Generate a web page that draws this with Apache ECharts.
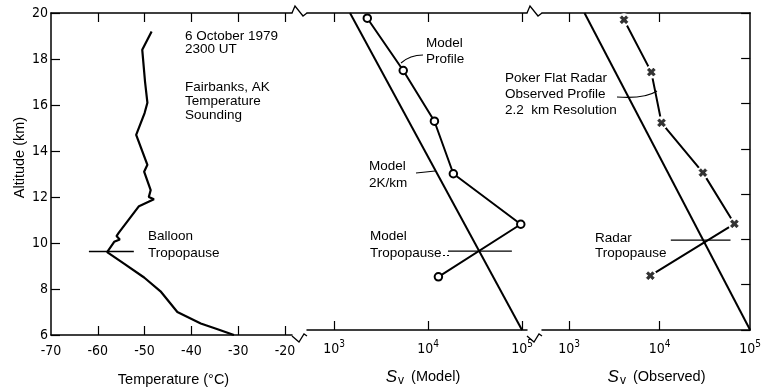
<!DOCTYPE html>
<html>
<head>
<meta charset="utf-8">
<script src="https://cdn.jsdelivr.net/npm/echarts@6/dist/echarts.min.js"></script>
<style>
html, body { margin: 0; padding: 0; background: #fff; }
#container { width: 764px; height: 392px; }
</style>
</head>
<body>
<div id="container"></div>
<script>
// balloon temperature sounding
var tempC = [-48.5, -50.5, -49.9, -49.4, -50.0, -51.8, -49.4, -50.1, -48.7, -49.1, -48.0, -51.2,
    -55.5, -56.0, -55.3, -56.5, -58.0, -54.4, -50.1, -46.6, -43.0, -38.0, -34.4, -30.9];
var tempAlt = [19.2, 18.4, 17.0, 16.1, 15.65, 14.7, 13.4, 13.1, 12.3, 12.0, 11.9, 11.6,
    10.45, 10.3, 10.15, 10.05, 9.6, 9.1, 8.5, 7.9, 7.0, 6.5, 6.25, 6.0];
var balloonTropC = [-61.9, -52.3];
var balloonTropAlt = [9.63, 9.63];

// model Sv
var modelSv = [2260, 5450, 11700, 18600, 97000, 12900];
var modelAlt = [19.77, 17.46, 15.22, 12.9, 10.67, 8.35];
var gradientSv = [1480, 100000]; // 2K/km model
var gradientAlt = [20, 6];
var modelTropSv = [16300, 78000];
var modelTropAlt = [9.48, 9.48];

// observed Sv (Poker Flat radar)
var obsSv = [4040, 8100, 10500, 30100, 67000, 7900];
var obsAlt = [19.70, 17.39, 15.15, 12.95, 10.69, 8.40];
var radarTropSv = [13300, 60700];
var radarTropAlt = [9.97, 9.97];

// ticks
var tempLabels = [-70, -60, -50, -40, -30, -20];
var tempTicks = [-60, -50, -40, -30, -20];
var svLabels = [1000, 10000, 100000];
var altMin = 6, altMax = 20, altStep = 2;

var ink = '#000';
var font = '"Liberation Sans", Arial, sans-serif';
var numFont = '"Liberation Sans Narrow", "DejaVu Sans Condensed", "Liberation Sans", sans-serif';

function zip(xs, ys) {
    return xs.map(function (x, i) { return [x, ys[i]]; });
}

function powLabel(v) {
    return '10{e|' + Math.round(Math.log10(v)) + '}';
}

var labelRich = {
    e: { fontSize: 10, fontFamily: numFont, color: ink, padding: [0, 0, 10, 0] }
};

function xAx(grid, type, min, max, pos, labels, ticks, name, padLeft) {
    var ax = {
        gridIndex: grid,
        type: type,
        position: pos,
        min: min,
        max: max,
        splitLine: { show: false },
        axisLine: { show: true, lineStyle: { color: ink, width: 1.5 } },
        axisTick: { show: true, inside: true, length: 9, customValues: ticks, lineStyle: { color: ink, width: 1.2 } },
        axisLabel: { show: false }
    };
    if (type === 'log') ax.logBase = 10;
    if (labels) {
        ax.axisLabel = {
            show: true,
            customValues: labels,
            margin: 9,
            color: ink,
            fontSize: 14,
            fontFamily: numFont,
            formatter: type === 'log' ? powLabel : function (v) { return String(v); },
            rich: labelRich
        };
    }
    if (name) {
        ax.name = name;
        ax.nameLocation = 'middle';
        ax.nameGap = 37;
        ax.nameTextStyle = {
            color: ink, fontSize: 14.5, fontFamily: font,
            padding: [0, 0, 0, padLeft || 0],
            rich: {
                s: { fontSize: 17, fontStyle: 'italic', fontFamily: font, color: ink },
                v: { fontSize: 12, fontFamily: font, color: ink, padding: [8, 3, 0, 1] }
            }
        };
    }
    return ax;
}

function hiddenY(grid) {
    return { gridIndex: grid, type: 'value', min: altMin, max: altMax, interval: altStep, show: false };
}

var dom = document.getElementById('container');
var myChart = echarts.init(dom, null, { renderer: 'canvas' });

var txt = '13.5px ' + font;

var option = {
    animation: false,
    backgroundColor: '#fff',
    grid: [
        { left: 51, top: 13, width: 241, height: 323 },
        { left: 307, top: 13, width: 220, height: 323 },
        { left: 542, top: 13, width: 215, height: 323 }
    ],
    xAxis: [
        xAx(0, 'value', -70, -18.5, 'bottom', tempLabels, tempTicks, 'Temperature (°C)', 4),
        xAx(0, 'value', -70, -18.5, 'top', null, tempTicks),
        xAx(1, 'log', 516, 113000, 'bottom', svLabels, svLabels, '{s|S}{v|v} (Model)', 12),
        xAx(1, 'log', 516, 113000, 'top', null, svLabels),
        xAx(2, 'log', 502, 100000, 'bottom', svLabels, [1000, 10000], '{s|S}{v|v} (Observed)', 21),
        xAx(2, 'log', 502, 100000, 'top', null, [1000, 10000])
    ],
    yAxis: [
        {
            gridIndex: 0, type: 'value', min: altMin, max: altMax, interval: altStep,
            name: 'Altitude (km)', nameLocation: 'middle', nameGap: 24,
            nameTextStyle: { color: ink, fontSize: 14.5, fontFamily: font, padding: [0, 0, 0, 33] },
            splitLine: { show: false },
            axisLine: { show: true, lineStyle: { color: ink, width: 1.5 } },
            axisTick: { inside: true, length: 9, lineStyle: { color: ink, width: 1.2 } },
            axisLabel: { margin: 3, color: ink, fontSize: 14, fontFamily: numFont }
        },
        hiddenY(1),
        hiddenY(2),
        {
            gridIndex: 2, type: 'value', min: altMin, max: altMax, interval: altStep, position: 'right',
            splitLine: { show: false },
            axisLine: { show: true, lineStyle: { color: ink, width: 1.5 } },
            axisTick: { inside: true, length: 9, lineStyle: { color: ink, width: 1.2 } },
            axisLabel: { show: false }
        }
    ],
    series: [
        {
            type: 'line', xAxisIndex: 0, yAxisIndex: 0, showSymbol: false,
            lineStyle: { color: ink, width: 2.2 },
            data: zip(tempC, tempAlt)
        },
        {
            type: 'line', xAxisIndex: 0, yAxisIndex: 0, showSymbol: false,
            lineStyle: { color: ink, width: 1.3 },
            data: zip(balloonTropC, balloonTropAlt)
        },
        {
            type: 'line', xAxisIndex: 2, yAxisIndex: 1, showSymbol: false,
            lineStyle: { color: ink, width: 2 },
            data: zip(gradientSv, gradientAlt)
        },
        {
            type: 'line', xAxisIndex: 2, yAxisIndex: 1, showSymbol: false,
            lineStyle: { color: ink, width: 1.3 },
            data: zip(modelTropSv, modelTropAlt)
        },
        {
            type: 'line', xAxisIndex: 2, yAxisIndex: 1,
            symbol: 'circle', symbolSize: 7.5,
            itemStyle: { color: '#fff', borderColor: ink, borderWidth: 2 },
            lineStyle: { color: ink, width: 2 },
            data: zip(modelSv, modelAlt)
        },
        {
            type: 'line', xAxisIndex: 4, yAxisIndex: 2, showSymbol: false,
            lineStyle: { color: ink, width: 2 },
            data: zip(gradientSv, gradientAlt)
        },
        {
            type: 'line', xAxisIndex: 4, yAxisIndex: 2, showSymbol: false,
            lineStyle: { color: ink, width: 1.3 },
            data: zip(radarTropSv, radarTropAlt)
        },
        {
            // line broken around each marker
            type: 'line', xAxisIndex: 4, yAxisIndex: 2,
            symbol: 'circle', symbolSize: 13,
            itemStyle: { color: '#fff', borderWidth: 0 },
            lineStyle: { color: ink, width: 2 },
            data: zip(obsSv, obsAlt)
        },
        {
            type: 'scatter', xAxisIndex: 4, yAxisIndex: 2, z: 5,
            symbol: 'path://M0,2.4L2.4,0L5,2.6L7.6,0L10,2.4L7.4,5L10,7.6L7.6,10L5,7.4L2.4,10L0,7.6L2.6,5Z',
            symbolSize: 8,
            itemStyle: { color: ink, borderColor: ink, borderWidth: 0.6 },
            data: zip(obsSv, obsAlt)
        }
    ],
    graphic: [
        // axis breaks
        { type: 'polyline', shape: { points: [[292, 13], [295, 6], [303, 16], [307, 13]] }, style: { stroke: ink, lineWidth: 1.3, fill: null } },
        { type: 'polyline', shape: { points: [[527, 13], [530, 6], [538, 16], [542, 13]] }, style: { stroke: ink, lineWidth: 1.3, fill: null } },
        { type: 'polyline', shape: { points: [[292, 336], [299, 342], [304, 334], [307, 336]] }, style: { stroke: ink, lineWidth: 1.3, fill: null } },
        { type: 'polyline', shape: { points: [[527, 336], [534, 342], [539, 334], [542, 336]] }, style: { stroke: ink, lineWidth: 1.3, fill: null } },
        // annotations
        { type: 'text', x: 185, y: 30, style: { text: '6 October 1979\n2300 UT', font: txt, lineHeight: 13, fill: ink } },
        { type: 'text', x: 185, y: 80, style: { text: 'Fairbanks, AK\nTemperature\nSounding', font: txt, lineHeight: 14, fill: ink } },
        { type: 'text', x: 148, y: 228, style: { text: 'Balloon\nTropopause', font: txt, lineHeight: 17, fill: ink } },
        { type: 'text', x: 426, y: 35, style: { text: 'Model\nProfile', font: txt, lineHeight: 16, fill: ink } },
        { type: 'text', x: 369, y: 158, style: { text: 'Model\n2K/km', font: txt, lineHeight: 17, fill: ink } },
        { type: 'text', x: 370, y: 228, style: { text: 'Model\nTropopause', font: txt, lineHeight: 17, fill: ink } },
        { type: 'text', x: 505, y: 70, style: { text: 'Poker Flat Radar\nObserved Profile\n2.2  km Resolution', font: txt, lineHeight: 16, fill: ink } },
        { type: 'text', x: 595, y: 231, style: { text: 'Radar\nTropopause', font: txt, lineHeight: 15, fill: ink } },
        // leaders
        { type: 'bezierCurve', shape: { x1: 423, y1: 55, cpx1: 410, cpy1: 55, x2: 401, y2: 63 }, style: { stroke: ink, lineWidth: 1.1, fill: null } },
        { type: 'bezierCurve', shape: { x1: 416, y1: 173, cpx1: 426, cpy1: 172, x2: 435, y2: 171 }, style: { stroke: ink, lineWidth: 1.1, fill: null } },
        { type: 'bezierCurve', shape: { x1: 617, y1: 97, cpx1: 645, cpy1: 99, x2: 657, y2: 91 }, style: { stroke: ink, lineWidth: 1.1, fill: null } },
        { type: 'line', shape: { x1: 443, y1: 255.5, x2: 449, y2: 255.5 }, style: { stroke: ink, lineWidth: 1, lineDash: [2, 2] } }
    ]
};

myChart.setOption(option);
window.addEventListener('resize', myChart.resize);
</script>
</body>
</html>
